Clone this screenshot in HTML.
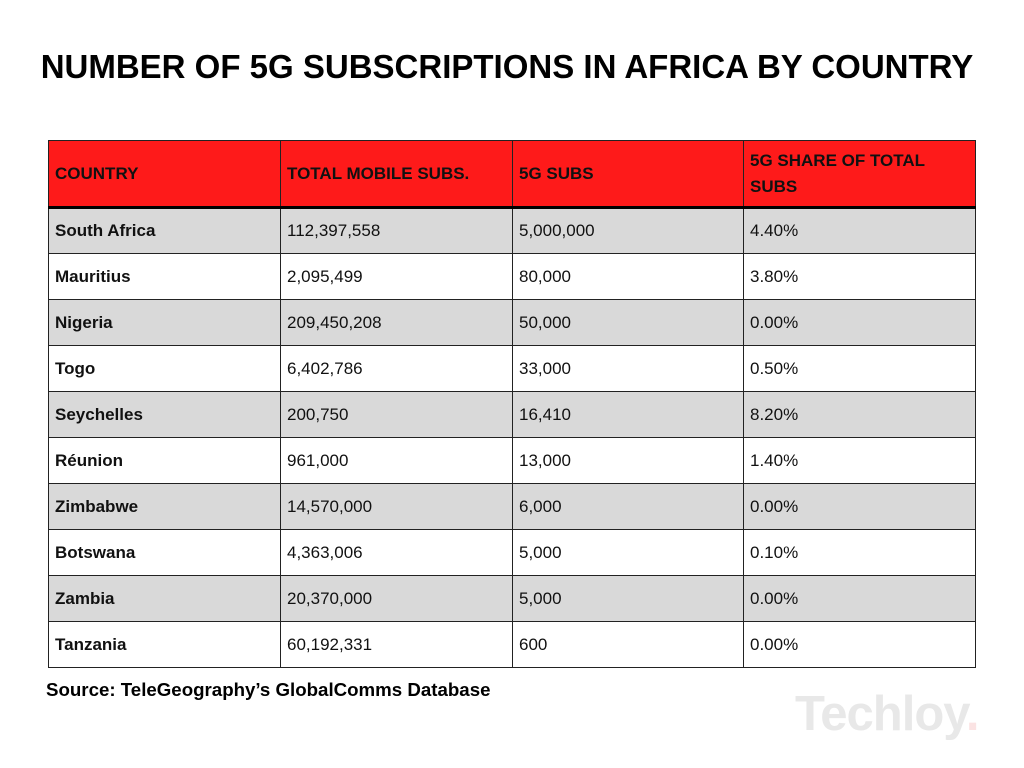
<!DOCTYPE html>
<html><head><meta charset="utf-8"><style>
body{margin:0;width:1024px;height:768px;background:#fff;font-family:"Liberation Sans",Arial,sans-serif;position:relative;overflow:hidden}
.abs{position:absolute}
table{position:absolute;left:48px;top:140px;border-collapse:collapse;table-layout:fixed}
td,th{border:1px solid #222;padding:0 0 0 6px;font-size:17px;color:#111;text-align:left;height:46px;box-sizing:border-box;font-weight:normal}
th{background:#fe1a1a;font-weight:bold;height:67px;line-height:26px;border-bottom:3px solid #000}
td.c{font-weight:bold}
tr.g td{background:#d9d9d9}
</style></head><body>
<div class="abs" style="left:0;width:1014px;top:48px;text-align:center;font-size:33px;font-weight:bold;color:#000">NUMBER OF 5G SUBSCRIPTIONS IN AFRICA BY COUNTRY</div>
<table>
<colgroup><col style="width:232px"><col style="width:232px"><col style="width:231px"><col style="width:232px"></colgroup>
<thead><tr id="hr"></tr></thead><tbody id="tb"></tbody></table>
<div class="abs" style="left:46px;top:679px;font-size:18.7px;font-weight:bold;color:#000">Source: TeleGeography’s GlobalComms Database</div>
<div class="abs" style="left:795px;top:686px;font-size:49px;font-weight:bold;color:#e8e8e8;letter-spacing:-1px">Techloy<span style="color:#fbe3e3">.</span></div>
<script>
const headers=["COUNTRY","TOTAL MOBILE SUBS.","5G SUBS","5G SHARE OF TOTAL SUBS"];
const countries=["South Africa","Mauritius","Nigeria","Togo","Seychelles","Réunion","Zimbabwe","Botswana","Zambia","Tanzania"];
const totalSubs=["112,397,558","2,095,499","209,450,208","6,402,786","200,750","961,000","14,570,000","4,363,006","20,370,000","60,192,331"];
const subs5g=["5,000,000","80,000","50,000","33,000","16,410","13,000","6,000","5,000","5,000","600"];
const share=["4.40%","3.80%","0.00%","0.50%","8.20%","1.40%","0.00%","0.10%","0.00%","0.00%"];
const hr=document.getElementById('hr');
headers.forEach(h=>{const th=document.createElement('th');th.textContent=h;


hr.appendChild(th);});
const tb=document.getElementById('tb');
countries.forEach((c,r)=>{const tr=document.createElement('tr');if(r%2==0)tr.className='g';


[c,totalSubs[r],subs5g[r],share[r]].forEach((v,i)=>{const td=document.createElement('td');td.textContent=v;if(i==0)td.className='c';


tr.appendChild(td);});tb.appendChild(tr);});
</script>
</body></html>
